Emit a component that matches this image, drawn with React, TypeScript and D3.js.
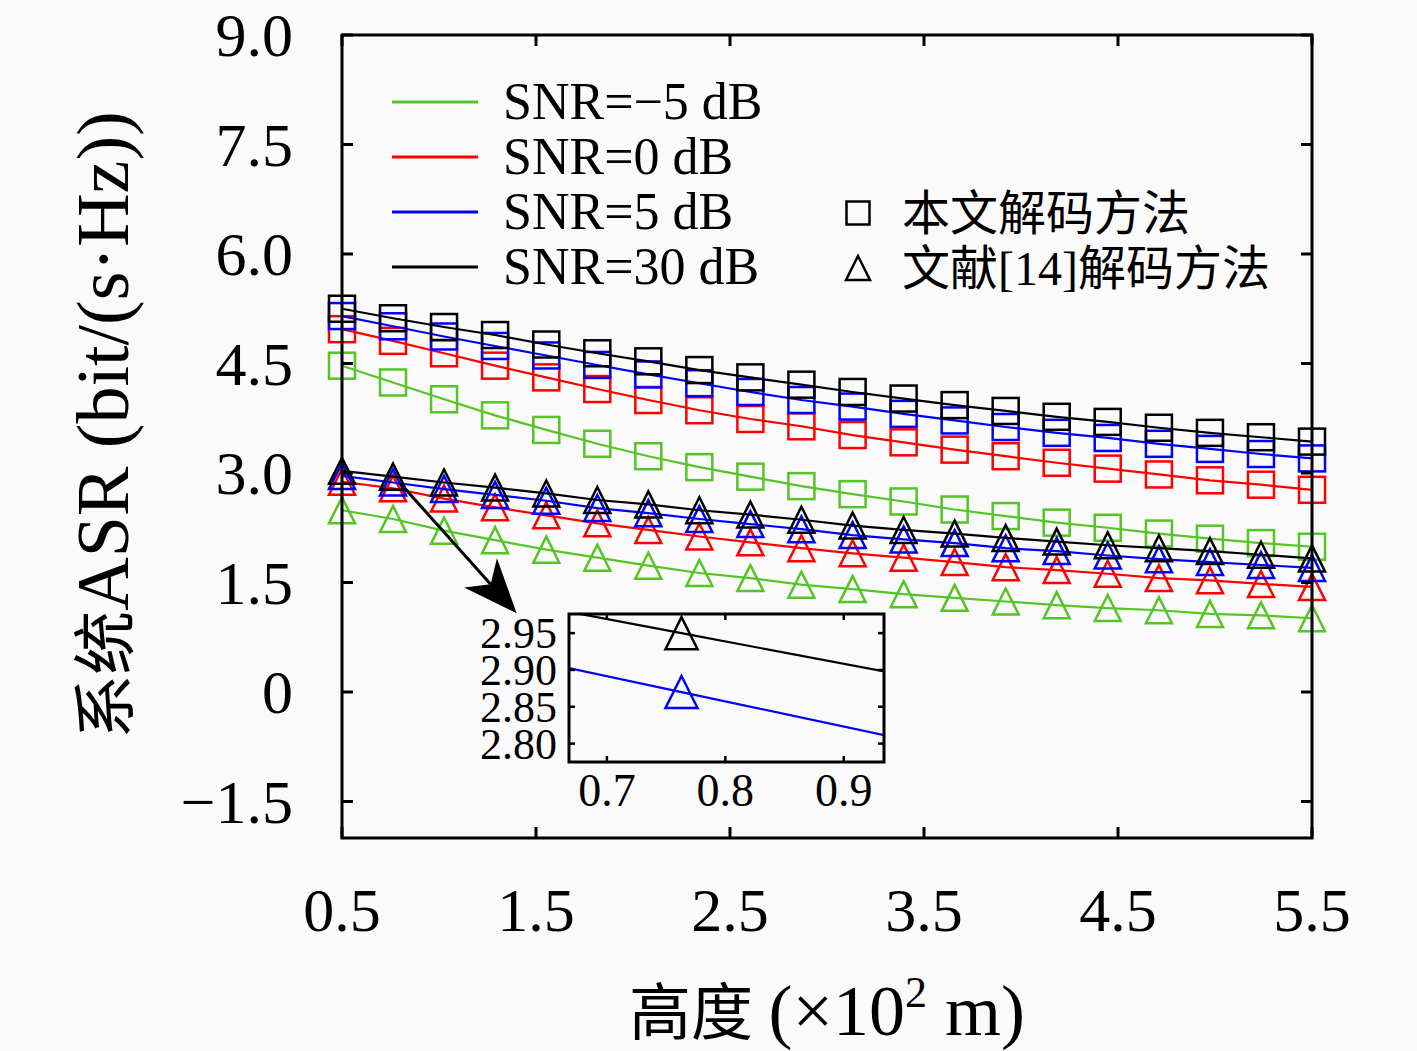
import React, { useEffect, useRef } from 'react';
import * as d3 from 'd3';

// 高度 (x 10^2 m)
const heights = [0.5, 0.763, 1.026, 1.289, 1.553, 1.816, 2.079, 2.342, 2.605, 2.868,
  3.132, 3.395, 3.658, 3.921, 4.184, 4.447, 4.711, 4.974, 5.237, 5.5];

// 本文解码方法 (squares)
const oursM5 = [4.47, 4.24, 4.01, 3.79, 3.59, 3.40, 3.23, 3.08, 2.95, 2.82, 2.71, 2.61, 2.50, 2.41, 2.32, 2.25, 2.17, 2.10, 2.04, 1.99];
const ours0 = [4.97, 4.81, 4.64, 4.47, 4.31, 4.15, 4.00, 3.86, 3.74, 3.64, 3.52, 3.42, 3.32, 3.23, 3.14, 3.06, 2.98, 2.90, 2.84, 2.77];
const ours5 = [5.15, 5.01, 4.87, 4.74, 4.61, 4.48, 4.35, 4.23, 4.11, 4.00, 3.91, 3.81, 3.72, 3.63, 3.55, 3.48, 3.40, 3.33, 3.26, 3.20];
const ours30 = [5.25, 5.12, 5.00, 4.89, 4.76, 4.64, 4.53, 4.41, 4.31, 4.21, 4.11, 4.02, 3.93, 3.85, 3.77, 3.70, 3.62, 3.55, 3.49, 3.43];

// 文献[14]解码方法 (triangles)
const refM5 = [2.49, 2.37, 2.21, 2.08, 1.95, 1.84, 1.73, 1.63, 1.56, 1.47, 1.41, 1.34, 1.29, 1.24, 1.19, 1.15, 1.12, 1.07, 1.05, 1.01];
const ref0 = [2.88, 2.79, 2.65, 2.53, 2.42, 2.31, 2.22, 2.13, 2.05, 1.97, 1.90, 1.84, 1.78, 1.71, 1.67, 1.62, 1.56, 1.53, 1.48, 1.44];
const ref5 = [2.96, 2.87, 2.78, 2.70, 2.62, 2.52, 2.45, 2.37, 2.30, 2.23, 2.15, 2.09, 2.04, 1.97, 1.93, 1.87, 1.82, 1.78, 1.74, 1.70];
const ref30 = [3.03, 2.95, 2.87, 2.80, 2.72, 2.63, 2.57, 2.49, 2.43, 2.36, 2.28, 2.22, 2.17, 2.11, 2.06, 2.01, 1.97, 1.93, 1.88, 1.83];

const snrLabels = ['SNR=−5 dB', 'SNR=0 dB', 'SNR=5 dB', 'SNR=30 dB'];
const snrColors = ['#55c525', '#ff0000', '#0000ff', '#000000'];
const oursSeries = [oursM5, ours0, ours5, ours30];
const refSeries = [refM5, ref0, ref5, ref30];
const methodLabels = ['本文解码方法', '文献[14]解码方法'];

const xTicks = [0.5, 1.5, 2.5, 3.5, 4.5, 5.5];
const yTicks = [-1.5, 0, 1.5, 3.0, 4.5, 6.0, 7.5, 9.0];
const insetXTicks = [0.7, 0.8, 0.9];
const insetYTicks = [2.80, 2.85, 2.90, 2.95];

// arrow annotation in data units: from near the 2nd point to the inset
const arrowFrom = [0.80, 2.86];
const arrowTo = [1.40, 1.08];

const W = 1417;
const H = 1051;
const FONT = "'Liberation Serif', 'Noto Sans CJK SC', serif";

const fmtY = (t: number) => (t === 0 ? '0' : t < 0 ? '−' + Math.abs(t).toFixed(1) : t.toFixed(1));

const App: React.FC = () => {
  const ref = useRef<SVGSVGElement>(null);

  useEffect(() => {
    const svg = d3.select(ref.current);
    svg.selectAll('*').remove();

    const left = 342, right = 1312, top = 35, bottom = 838;
    const x = d3.scaleLinear().domain([0.5, 5.5]).range([left, right]);
    const y = d3.scaleLinear().domain([-2, 9]).range([bottom, top]);

    svg.append('rect').attr('width', W).attr('height', H).attr('fill', '#fafafa');

    const sq = (g: any, pts: [number, number][], color: string, s: number) => {
      g.selectAll(null).data(pts).enter().append('rect')
        .attr('x', (d: any) => d[0] - s / 2).attr('y', (d: any) => d[1] - s / 2)
        .attr('width', s).attr('height', s)
        .attr('fill', 'none').attr('stroke', color).attr('stroke-width', 2.5);
    };
    const tri = (g: any, pts: [number, number][], color: string, s: number) => {
      g.selectAll(null).data(pts).enter().append('path')
        .attr('d', (d: any) => `M${d[0]},${d[1] - s / 2}L${d[0] + s / 2},${d[1] + s / 2}L${d[0] - s / 2},${d[1] + s / 2}Z`)
        .attr('fill', 'none').attr('stroke', color).attr('stroke-width', 2.5)
        .attr('stroke-linejoin', 'miter');
    };

    // data series
    const data = svg.append('g');
    const line = d3.line<number>().x((_, i) => x(heights[i])).y(d => y(d));
    snrColors.forEach((c, k) => {
      [oursSeries[k], refSeries[k]].forEach((vals, m) => {
        data.append('path').attr('d', line(vals)).attr('fill', 'none')
          .attr('stroke', c).attr('stroke-width', 2.2);
        const pts = vals.map((v, i) => [x(heights[i]), y(v)] as [number, number]);
        if (m === 0) sq(data, pts, c, 26); else tri(data, pts, c, 26);
      });
    });

    // frame and ticks
    const axis = svg.append('g').attr('stroke', '#000');
    axis.append('rect').attr('x', left).attr('y', top).attr('width', right - left)
      .attr('height', bottom - top).attr('fill', 'none').attr('stroke-width', 3);
    xTicks.forEach(t => {
      axis.append('line').attr('x1', x(t)).attr('x2', x(t)).attr('y1', bottom).attr('y2', bottom - 11).attr('stroke-width', 3);
      axis.append('line').attr('x1', x(t)).attr('x2', x(t)).attr('y1', top).attr('y2', top + 11).attr('stroke-width', 3);
    });
    yTicks.forEach(t => {
      axis.append('line').attr('y1', y(t)).attr('y2', y(t)).attr('x1', left).attr('x2', left + 11).attr('stroke-width', 3);
      axis.append('line').attr('y1', y(t)).attr('y2', y(t)).attr('x1', right).attr('x2', right - 11).attr('stroke-width', 3);
    });

    const labels = svg.append('g').attr('font-family', FONT).attr('fill', '#000');
    xTicks.forEach(t => {
      labels.append('text').attr('x', x(t)).attr('y', 931).attr('text-anchor', 'middle')
        .attr('font-size', 62).text(t.toFixed(1));
    });
    yTicks.forEach(t => {
      labels.append('text').attr('x', 293).attr('y', y(t) + 21).attr('text-anchor', 'end')
        .attr('font-size', 62).text(fmtY(t));
    });

    // axis titles
    const xt = labels.append('text').attr('x', 827).attr('y', 1035).attr('text-anchor', 'middle').attr('font-size', 72);
    xt.append('tspan').attr('font-size', 62).text('高度 ');
    xt.append('tspan').text('(×10');
    xt.append('tspan').attr('font-size', 44).attr('dy', -28).text('2');
    xt.append('tspan').attr('dy', 28).text(' m)');

    const yt = labels.append('text').attr('transform', 'translate(128,425) rotate(-90)')
      .attr('text-anchor', 'middle').attr('font-size', 74);
    yt.append('tspan').attr('font-size', 64).text('系统');
    yt.append('tspan').text('ASR (bit/(s·Hz))');

    // legend
    const lg = svg.append('g').attr('font-family', FONT);
    snrLabels.forEach((s, k) => {
      const ly = 102 + k * 55;
      lg.append('line').attr('x1', 392).attr('x2', 478).attr('y1', ly).attr('y2', ly)
        .attr('stroke', snrColors[k]).attr('stroke-width', 3);
      lg.append('text').attr('x', 503).attr('y', ly + 17).attr('font-size', 52).text(s);
    });
    sq(lg, [[858, 213]], '#000', 23);
    tri(lg, [[858, 268]], '#000', 24);
    methodLabels.forEach((s, k) => {
      lg.append('text').attr('x', 902).attr('y', 230 + k * 55).attr('font-size', 48).text(s);
    });

    // arrow
    const ax0 = x(arrowFrom[0]), ay0 = y(arrowFrom[1]);
    const ax1 = x(arrowTo[0]), ay1 = y(arrowTo[1]);
    const len = Math.hypot(ax1 - ax0, ay1 - ay0);
    const ux = (ax1 - ax0) / len, uy = (ay1 - ay0) / len;
    const headL = 54, headW = 22;
    const bx = ax1 - ux * headL, by = ay1 - uy * headL;
    const nx = ax1 - ux * headL * 0.72, ny = ay1 - uy * headL * 0.72;
    svg.append('line').attr('x1', ax0).attr('y1', ay0).attr('x2', nx).attr('y2', ny)
      .attr('stroke', '#000').attr('stroke-width', 3);
    svg.append('path')
      .attr('d', `M${ax1},${ay1}L${bx - uy * headW},${by + ux * headW}L${nx},${ny}L${bx + uy * headW},${by - ux * headW}Z`)
      .attr('fill', '#000');

    // inset
    const il = 569, ir = 884, it = 614, ib = 762;
    const ix = d3.scaleLinear().domain([0.668, 0.934]).range([il, ir]);
    const iy = d3.scaleLinear().domain([2.775, 2.976]).range([ib, it]);
    const inset = svg.append('g');
    inset.append('rect').attr('x', il).attr('y', it).attr('width', ir - il).attr('height', ib - it).attr('fill', '#fafafa');
    const clip = svg.append('clipPath').attr('id', 'insetClip');
    clip.append('rect').attr('x', il).attr('y', it).attr('width', ir - il).attr('height', ib - it);
    const inner = inset.append('g').attr('clip-path', 'url(#insetClip)');
    const iline = d3.line<number>().x((_, i) => ix(heights[i])).y(d => iy(d));
    [[ref5, snrColors[2]], [ref30, snrColors[3]]].forEach(([vals, c]: any) => {
      inner.append('path').attr('d', iline(vals)).attr('fill', 'none').attr('stroke', c).attr('stroke-width', 2.2);
      tri(inner, vals.map((v: number, i: number) => [ix(heights[i]), iy(v)]), c, 32);
    });
    inset.append('rect').attr('x', il).attr('y', it).attr('width', ir - il).attr('height', ib - it)
      .attr('fill', 'none').attr('stroke', '#000').attr('stroke-width', 3);
    insetXTicks.forEach(t => {
      inset.append('line').attr('x1', ix(t)).attr('x2', ix(t)).attr('y1', ib).attr('y2', ib - 6).attr('stroke', '#000').attr('stroke-width', 2.5);
      inset.append('line').attr('x1', ix(t)).attr('x2', ix(t)).attr('y1', it).attr('y2', it + 6).attr('stroke', '#000').attr('stroke-width', 2.5);
      inset.append('text').attr('x', ix(t)).attr('y', 806).attr('text-anchor', 'middle')
        .attr('font-family', FONT).attr('font-size', 46).text(t.toFixed(1));
    });
    insetYTicks.forEach(t => {
      inset.append('line').attr('y1', iy(t)).attr('y2', iy(t)).attr('x1', il).attr('x2', il + 6).attr('stroke', '#000').attr('stroke-width', 2.5);
      inset.append('line').attr('y1', iy(t)).attr('y2', iy(t)).attr('x1', ir).attr('x2', ir - 6).attr('stroke', '#000').attr('stroke-width', 2.5);
      inset.append('text').attr('x', 557).attr('y', iy(t) + 15).attr('text-anchor', 'end')
        .attr('font-family', FONT).attr('font-size', 44).text(t.toFixed(2));
    });
  }, []);

  return (
    <svg ref={ref} width={W} height={H}
      style={{ position: 'absolute', left: 0, top: 0, display: 'block' }} />
  );
};

export default App;
